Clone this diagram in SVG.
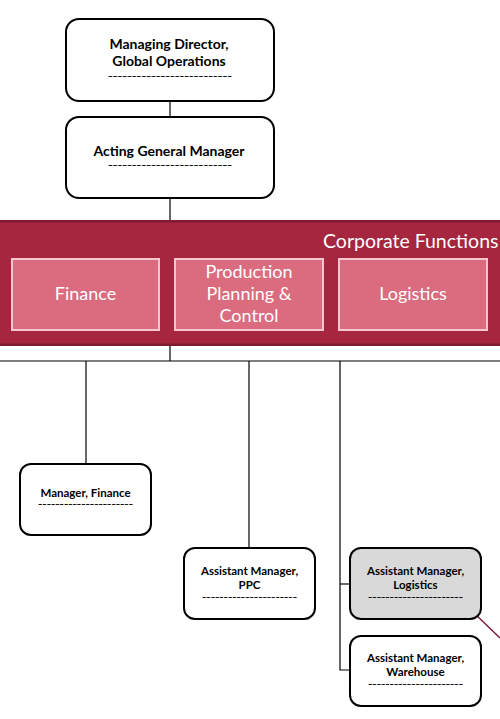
<svg xmlns="http://www.w3.org/2000/svg" width="500" height="719" viewBox="0 0 500 719">
<style>
.box{fill:#fff;stroke:#000;stroke-width:2}
.grey{fill:#d9d9d9}
.t{font-family:Lato,"Open Sans","Liberation Sans",sans-serif;font-weight:bold;fill:#000;text-anchor:middle}
.big{font-size:14px}
.sm{font-size:11.5px}
.dash{font-family:"Liberation Sans",sans-serif;font-weight:bold;font-size:6.5px;fill:#000;text-anchor:middle}
.fn{fill:#db6b7e;stroke:#f6c6cf;stroke-width:2}
.w{font-family:Lato,"Open Sans","Liberation Sans",sans-serif;fill:#fff;font-size:18px;text-anchor:middle}
.ln{stroke:#000;stroke-width:1.2;fill:none}
</style>
<rect width="500" height="719" fill="#fff"/>
<g id="connectors">
<line class="ln" x1="170" y1="101" x2="170" y2="117"/>
<line class="ln" x1="170" y1="198" x2="170" y2="220"/>
<line class="ln" x1="170" y1="346" x2="170" y2="361"/>
<line class="ln" x1="0" y1="361" x2="500" y2="361"/>
<line class="ln" x1="86" y1="361" x2="86" y2="464"/>
<line class="ln" x1="249" y1="361" x2="249" y2="548"/>
<polyline class="ln" points="340,361 340,670 350,670" stroke="#555"/>
<line class="ln" x1="340" y1="584" x2="351" y2="584"/>
<line x1="473" y1="612" x2="500" y2="638" stroke="#7b1f3c" stroke-width="1.5"/>
</g>
<g id="md">
<rect class="box" x="66" y="19" width="208" height="82" rx="13"/>
<text class="t big" x="169" y="49">Managing Director,</text>
<text class="t big" x="169" y="66">Global Operations</text>
<text class="dash" x="170" y="78" textLength="124" lengthAdjust="spacingAndGlyphs">--------------------------</text>
</g>
<g id="agm">
<rect class="box" x="66" y="117" width="208" height="81" rx="13"/>
<text class="t big" x="169" y="156">Acting General Manager</text>
<text class="dash" x="170" y="167" textLength="124" lengthAdjust="spacingAndGlyphs">--------------------------</text>
</g>
<g id="corporate">
<rect x="0" y="220" width="500" height="126" fill="#a6263f"/>
<rect x="0" y="220" width="500" height="2.5" fill="#7e1a30"/>
<rect x="0" y="343.5" width="500" height="2.5" fill="#7e1a30"/>
<text x="323" y="248" font-family="Lato,'Open Sans','Liberation Sans',sans-serif" font-size="19.5" fill="#fff">Corporate Functions</text>
</g>
<g id="finance">
<rect class="fn" x="12" y="259" width="147" height="71"/>
<text class="w" x="85.5" y="300">Finance</text>
</g>
<g id="ppc">
<rect class="fn" x="175" y="259" width="148" height="71"/>
<text class="w" x="249" y="278">Production</text>
<text class="w" x="249" y="300">Planning &amp;</text>
<text class="w" x="249" y="322">Control</text>
</g>
<g id="logistics">
<rect class="fn" x="339" y="259" width="148" height="71"/>
<text class="w" x="413" y="300">Logistics</text>
</g>
<g id="mgr-finance">
<rect class="box" x="20" y="464" width="131" height="71" rx="11"/>
<text class="t sm" x="85.5" y="497">Manager, Finance</text>
<text class="dash" x="85.5" y="506" textLength="95" lengthAdjust="spacingAndGlyphs">----------------------</text>
</g>
<g id="am-ppc">
<rect class="box" x="184" y="548" width="131" height="71" rx="11"/>
<text class="t sm" x="249.5" y="575">Assistant Manager,</text>
<text class="t sm" x="249.5" y="589">PPC</text>
<text class="dash" x="249.5" y="599" textLength="95" lengthAdjust="spacingAndGlyphs">----------------------</text>
</g>
<g id="am-logistics">
<rect class="box grey" x="350" y="548" width="131" height="71" rx="11"/>
<text class="t sm" x="415.5" y="575">Assistant Manager,</text>
<text class="t sm" x="415.5" y="589">Logistics</text>
<text class="dash" x="415.5" y="599" textLength="95" lengthAdjust="spacingAndGlyphs">----------------------</text>
</g>
<g id="am-warehouse">
<rect class="box" x="350" y="636" width="131" height="70" rx="11"/>
<text class="t sm" x="415.5" y="662">Assistant Manager,</text>
<text class="t sm" x="415.5" y="676">Warehouse</text>
<text class="dash" x="415.5" y="686" textLength="95" lengthAdjust="spacingAndGlyphs">----------------------</text>
</g>
</svg>
